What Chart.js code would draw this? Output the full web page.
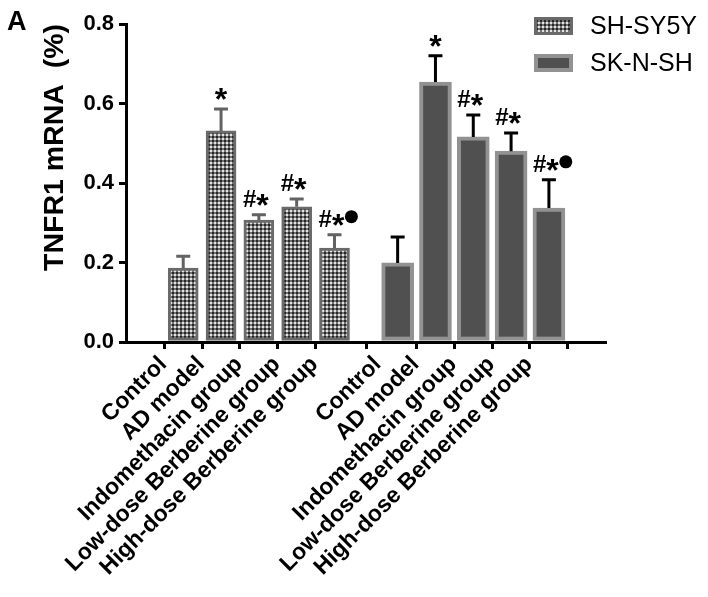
<!DOCTYPE html>
<html>
<head>
<meta charset="utf-8">
<script src="https://cdn.jsdelivr.net/npm/chart.js@4/dist/chart.umd.min.js"></script>
<style>
  html, body { margin: 0; padding: 0; background: #fff; }
  canvas { display: block; }
</style>
</head>
<body>
<canvas id="tnfChart" width="708" height="597"></canvas>
<script>
// categories and positions along the x axis (two cell lines with a gap)
const categories = ['Control', 'AD model', 'Indomethacin group', 'Low-dose Berberine group', 'High-dose Berberine group',
                    'Control', 'AD model', 'Indomethacin group', 'Low-dose Berberine group', 'High-dose Berberine group'];
const xPos = [1, 2, 3, 4, 5, 6.67, 7.67, 8.67, 9.67, 10.67];

const seriesNames = ['SH-SY5Y', 'SK-N-SH'];
const shsy5y = [0.186, 0.531, 0.307, 0.340, 0.236];
const shsy5yErr = [0.030, 0.055, 0.013, 0.020, 0.034];
const sknsh = [0.199, 0.654, 0.516, 0.480, 0.337];
const sknshErr = [0.065, 0.066, 0.055, 0.046, 0.071];
const marks = ['', '*', '#*', '#*', '#*●'];

const yTicks = [0, 0.2, 0.4, 0.6, 0.8];

const FONT = '"Liberation Sans", Arial, sans-serif';

// checkered fill like the prism pattern
function makePattern() {
    const c = document.createElement('canvas');
    c.width = 4; c.height = 4;
    const g = c.getContext('2d');
    g.fillStyle = '#737373';
    g.fillRect(0, 0, 4, 4);
    g.fillStyle = '#262626';
    g.fillRect(0, 0, 2, 2);
    g.fillStyle = '#e2e2e2';
    g.fillRect(2, 2, 2, 2);
    return g.createPattern(c, 'repeat');
}
const ctx = document.getElementById('tnfChart').getContext('2d');
const checker = makePattern();

const errs = [shsy5yErr, sknshErr];
const errColors = ['#626262', '#000000'];

// draws "#", "*" and "●" pieces of a significance mark centred on x
function drawMark(c, m, x, base) {
    const hasHash = m.includes('#');
    const hasDot = m.includes('●');
    c.font = 'bold 24px ' + FONT;
    const wHash = hasHash ? c.measureText('#').width : 0;
    c.font = 'bold 32px ' + FONT;
    const wStar = c.measureText('*').width;
    let left = x - (wHash + wStar) / 2 - (hasHash ? 3 : 0);
    c.textAlign = 'left';
    c.textBaseline = 'alphabetic';
    if (hasHash) {
        c.font = 'bold 24px ' + FONT;
        c.fillText('#', left, base);
        left += wHash;
    }
    c.font = 'bold 32px ' + FONT;
    c.fillText('*', left, base + 9);
    left += wStar;
    if (hasDot) {
        c.beginPath();
        c.arc(left + 7, base - 10, 6.5, 0, Math.PI * 2);
        c.fill();
    }
}

// error bars + significance marks + legend
const extrasPlugin = {
    id: 'extras',
    afterDatasetsDraw(chart) {
        const c = chart.ctx;
        const y = chart.scales.y;
        chart.data.datasets.forEach((ds, di) => {
            const meta = chart.getDatasetMeta(di);
            meta.data.forEach((bar, i) => {
                const v = ds.data[i].y;
                const top = y.getPixelForValue(v + errs[di][i]);
                const base = y.getPixelForValue(v);
                c.save();
                c.strokeStyle = errColors[di];
                c.lineWidth = 3;
                c.beginPath();
                c.moveTo(bar.x, base);
                c.lineTo(bar.x, top);
                c.moveTo(bar.x - 7, top);
                c.lineTo(bar.x + 7, top);
                c.stroke();
                c.fillStyle = '#000';
                if (marks[i]) drawMark(c, marks[i], bar.x, top - 8);
                c.restore();
            });
        });
    },
    afterDraw(chart) {
        const c = chart.ctx;
        c.save();
        // panel letter
        c.fillStyle = '#000';
        c.font = 'bold 27px ' + FONT;
        c.textBaseline = 'alphabetic';
        c.textAlign = 'left';
        c.fillText('A', 7, 30);
        // legend
        c.font = '25px ' + FONT;
        c.textBaseline = 'middle';
        chart.data.datasets.forEach((ds, di) => {
            const bx = 534, by = 17 + di * 37;
            c.fillStyle = ds.borderColor;
            c.fillRect(bx, by, 39, 18);
            c.fillStyle = ds.backgroundColor;
            const bw = ds.borderWidth;
            c.fillRect(bx + bw, by + bw, 39 - 2 * bw, 18 - 2 * bw);
            c.fillStyle = '#000';
            c.fillText(ds.label, 590, by + 10);
        });
        c.restore();
    }
};

new Chart(ctx, {
    type: 'bar',
    data: {
        datasets: [{
            label: seriesNames[0],
            data: shsy5y.map((v, i) => ({ x: xPos[i], y: v })),
            backgroundColor: checker,
            borderColor: '#6a6a6a',
            borderWidth: 3,
            borderSkipped: false,
            barThickness: 30,
            grouped: false
        }, {
            label: seriesNames[1],
            data: sknsh.map((v, i) => ({ x: xPos[i + 5], y: v })),
            backgroundColor: '#505050',
            borderColor: '#929292',
            borderWidth: 4,
            borderSkipped: false,
            barThickness: 32,
            grouped: false
        }]
    },
    options: {
        responsive: false,
        animation: false,
        layout: { padding: { top: 24, right: 103, bottom: 0, left: 0 } },
        scales: {
            x: {
                type: 'linear',
                min: 0.12,
                max: 11.52,
                afterBuildTicks(scale) { scale.ticks = xPos.map(v => ({ value: v })); },
                afterFit(scale) { scale.height = 255; },
                ticks: {
                    autoSkip: false,
                    minRotation: 45,
                    maxRotation: 45,
                    padding: 2,
                    labelOffset: -20,
                    color: '#000',
                    font: { family: FONT, size: 23, weight: 'bold' },
                    callback: (v, i) => categories[i]
                },
                grid: { drawOnChartArea: false, drawTicks: true, tickLength: 7, color: '#000', lineWidth: 3 },
                border: { display: true, color: '#000', width: 3 }
            },
            y: {
                min: 0,
                max: 0.8,
                afterBuildTicks(scale) { scale.ticks = yTicks.map(v => ({ value: v })); },
                afterFit(scale) { scale.width = 126; },
                ticks: {
                    padding: 5,
                    color: '#000',
                    font: { family: FONT, size: 22, weight: 'bold' },
                    callback: v => v.toFixed(1)
                },
                grid: { drawOnChartArea: false, drawTicks: true, tickLength: 7, color: '#000', lineWidth: 3 },
                border: { display: true, color: '#000', width: 3 },
                title: {
                    display: true,
                    text: 'TNFR1 mRNA  (%)',
                    align: 'end',
                    color: '#000',
                    padding: { top: 38, bottom: 0 },
                    font: { family: FONT, size: 28.5, weight: 'bold' }
                }
            }
        },
        plugins: {
            legend: { display: false },
            tooltip: { enabled: false }
        }
    },
    plugins: [extrasPlugin]
});
</script>
</body>
</html>
